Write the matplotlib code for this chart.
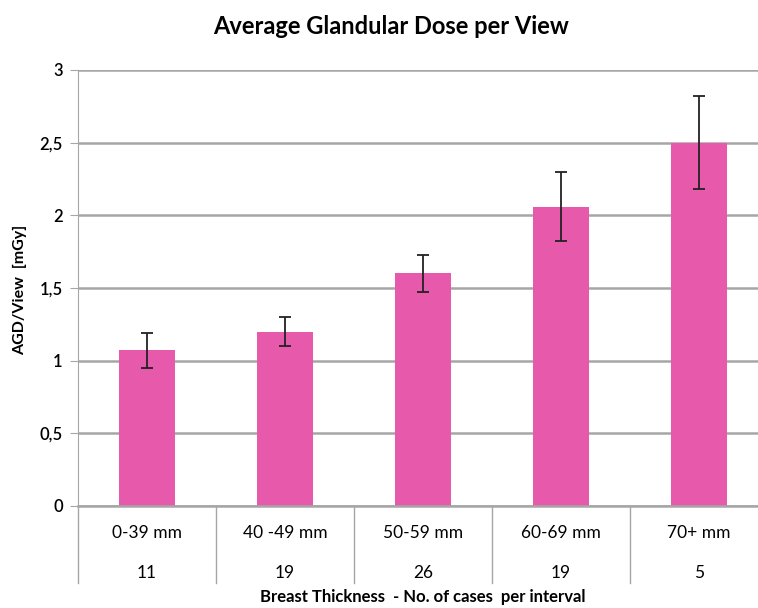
import matplotlib.pyplot as plt
import matplotlib.transforms as mtransforms

categories = ['0-39 mm', '40 -49 mm', '50-59 mm', '60-69 mm', '70+ mm']
cases = ['11', '19', '26', '19', '5']
agd = [1.07, 1.20, 1.60, 2.06, 2.50]
err = [0.12, 0.10, 0.125, 0.24, 0.32]
yticks = [0, 0.5, 1, 1.5, 2, 2.5, 3]
ytick_labels = ['0', '0,5', '1', '1,5', '2', '2,5', '3']

plt.rcParams['font.family'] = ['Lato', 'DejaVu Sans']

fig = plt.figure(figsize=(7.58, 6.08), dpi=100)
ax = fig.add_axes([78/758, 102/608, 690/758, 436/608])

x = list(range(len(categories)))
ax.bar(x, agd, width=0.4, color='#E75AAB', zorder=2)
ax.errorbar(x, agd, yerr=err, fmt='none', ecolor='#222222', elinewidth=1.3,
            capsize=4, capthick=1.3, zorder=3)

ax.set_xlim(-0.5, len(categories) - 0.5)
ax.set_ylim(0, 3)
ax.set_yticks(yticks)
ax.set_yticklabels(ytick_labels, fontsize=12, fontweight='semibold')
ax.yaxis.grid(True, color='#A6A6A6', linewidth=1.8, zorder=0)
ax.set_axisbelow(True)
ax.tick_params(axis='y', length=6, color='#A6A6A6', pad=5)

for s in ['top', 'right']:
    ax.spines[s].set_visible(False)
ax.spines['left'].set_color('#A6A6A6')
ax.spines['bottom'].set_color('#A6A6A6')
ax.spines['bottom'].set_linewidth(1.8)

ax.set_xticks([])
trans = mtransforms.blended_transform_factory(ax.transData, ax.transAxes)
for i, (c, n) in enumerate(zip(categories, cases)):
    ax.text(i, -27/436, c, transform=trans, ha='center', va='center', fontsize=12.5)
    ax.text(i, -67/436, n, transform=trans, ha='center', va='center', fontsize=12.5)
for b in range(len(categories) + 1):
    ax.plot([b - 0.5, b - 0.5], [0, -77/436], transform=trans, color='#A6A6A6',
            linewidth=1, clip_on=False)

ax.text(0.5, -91/436, 'Breast Thickness  - No. of cases  per interval',
        transform=ax.transAxes, ha='center', va='center', fontsize=12, fontweight='bold')
fig.text(20/758, 1 - 290/608, 'AGD/View  [mGy]', rotation=90, ha='center', va='center',
         fontsize=11.5, fontweight='bold')
fig.text(391/758, 1 - 27/608, 'Average Glandular Dose per View', ha='center', va='center',
         fontsize=17, fontweight='bold')

fig.savefig('out.png', dpi=100)
